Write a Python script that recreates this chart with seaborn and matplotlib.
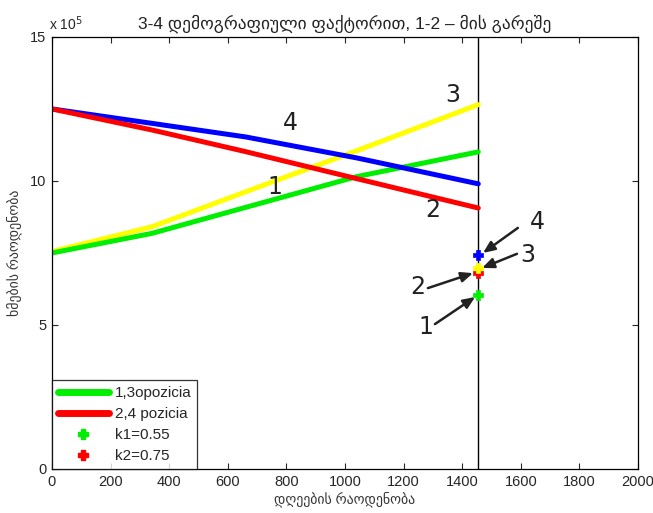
import matplotlib
matplotlib.use("Agg")
import matplotlib.pyplot as plt
import seaborn as sns
import pandas as pd
from matplotlib.lines import Line2D

# ---- data (votes in units of 1e5) ----
days = [0, 341, 660, 1040, 1455]
line1_green = [7.50, 8.18, 9.08, 10.15, 11.01]
line2_red = [12.50, 11.77, 11.02, 10.08, 9.06]
line3_yellow = [7.55, 8.41, 9.62, 11.05, 12.65]
line4_blue = [12.50, 12.00, 11.53, 10.80, 9.90]

end_day = 1455
point_labels = ["1", "2", "3", "4"]
point_values = [6.04, 6.80, 6.97, 7.43]
point_colors = ["#00ee00", "#ff0000", "#ffff00", "#0000ff"]

legend_labels = ["1,3opozicia", "2,4 pozicia", "k1=0.55", "k2=0.75"]
x_ticks = [0, 200, 400, 600, 800, 1000, 1200, 1400, 1600, 1800, 2000]
y_ticks = [0, 5, 10, 15]

title = "3-4 დემოგრაფიული ფაქტორით, 1-2 – მის გარეშე"
xlabel = "დღეების რაოდენობა"
ylabel = "ხმების რაოდენობა"

sns.set_style("ticks")
plt.rcParams["font.family"] = ["Liberation Sans", "DejaVu Sans"]

fig = plt.figure(figsize=(6.53, 5.13), dpi=100)
ax = fig.add_axes([0.0796, 0.0858, 0.8974, 0.8422])

lw = 3.6
df = pd.DataFrame({"day": days, "g": line1_green, "r": line2_red,
                   "y": line3_yellow, "b": line4_blue})
sns.lineplot(data=df, x="day", y="y", color="#ffff00", lw=lw, ax=ax)
sns.lineplot(data=df, x="day", y="g", color="#00ee00", lw=lw, ax=ax)
sns.lineplot(data=df, x="day", y="b", color="#0000ff", lw=lw, ax=ax)
sns.lineplot(data=df, x="day", y="r", color="#ff0000", lw=lw, ax=ax)

ax.axvline(end_day, color="black", lw=1.0, zorder=1)

for i in range(4):
    sns.scatterplot(x=[end_day], y=[point_values[i]], marker="P", s=55,
                    color=point_colors[i], edgecolor=point_colors[i],
                    linewidth=0.5, ax=ax, zorder=5)

# line labels
txt_kw = dict(fontsize=17, family=["DejaVu Sans"], color="#222222",
              ha="center", va="center")
ax.text(812, 12.0, "4", **txt_kw)
ax.text(1369, 12.99, "3", **txt_kw)
ax.text(761, 9.79, "1", **txt_kw)
ax.text(1300, 8.99, "2", **txt_kw)

# arrows to points
arrows = [("4", (1655, 8.58), (1590, 8.37), (1471, 7.50)),
          ("3", (1625, 7.43), (1587, 7.47), (1468, 6.98)),
          ("2", (1250, 6.32), (1283, 6.28), (1437, 6.80)),
          ("1", (1275, 4.93), (1307, 5.03), (1444, 5.97))]
for lab, tpos, tail, tip in arrows:
    ax.annotate("", xy=tip, xytext=tail,
                arrowprops=dict(arrowstyle="-|>,head_length=0.7,head_width=0.3",
                                color="#222222", lw=1.8, shrinkA=0, shrinkB=0))
    ax.text(tpos[0], tpos[1], lab, **txt_kw)

ax.set_xlim(0, 2000)
ax.set_ylim(0, 15)
ax.set_xticks(x_ticks)
ax.set_yticks(y_ticks)
ax.tick_params(direction="in", top=True, right=True, length=4, labelsize=10.5,
               width=0.8, pad=4)
for s in ax.spines.values():
    s.set_linewidth(0.9)
    s.set_color("black")

ax.set_xlabel(xlabel, fontsize=10, color="#333333", labelpad=2)
ax.set_ylabel(ylabel, fontsize=10, color="#333333", labelpad=6)
ax.set_title(title, fontsize=12.5, color="#222222", pad=6)
ax.text(-0.005, 1.008, "x 10$^5$", transform=ax.transAxes, fontsize=10,
        ha="left", va="bottom")

handles = [Line2D([], [], color="#00ee00", lw=5),
           Line2D([], [], color="#ff0000", lw=5),
           Line2D([], [], color="#00ee00", marker="P", ls="none", ms=7),
           Line2D([], [], color="#ff0000", marker="P", ls="none", ms=7)]
leg = ax.legend(handles, legend_labels, loc="lower left", bbox_to_anchor=(0, 0),
                fontsize=11, frameon=True, fancybox=False, edgecolor="black",
                borderaxespad=0, handlelength=3.3, labelspacing=0.45,
                handletextpad=0.4, borderpad=0.4)
leg.get_frame().set_linewidth(0.9)

fig.savefig("out.png", dpi=100)
